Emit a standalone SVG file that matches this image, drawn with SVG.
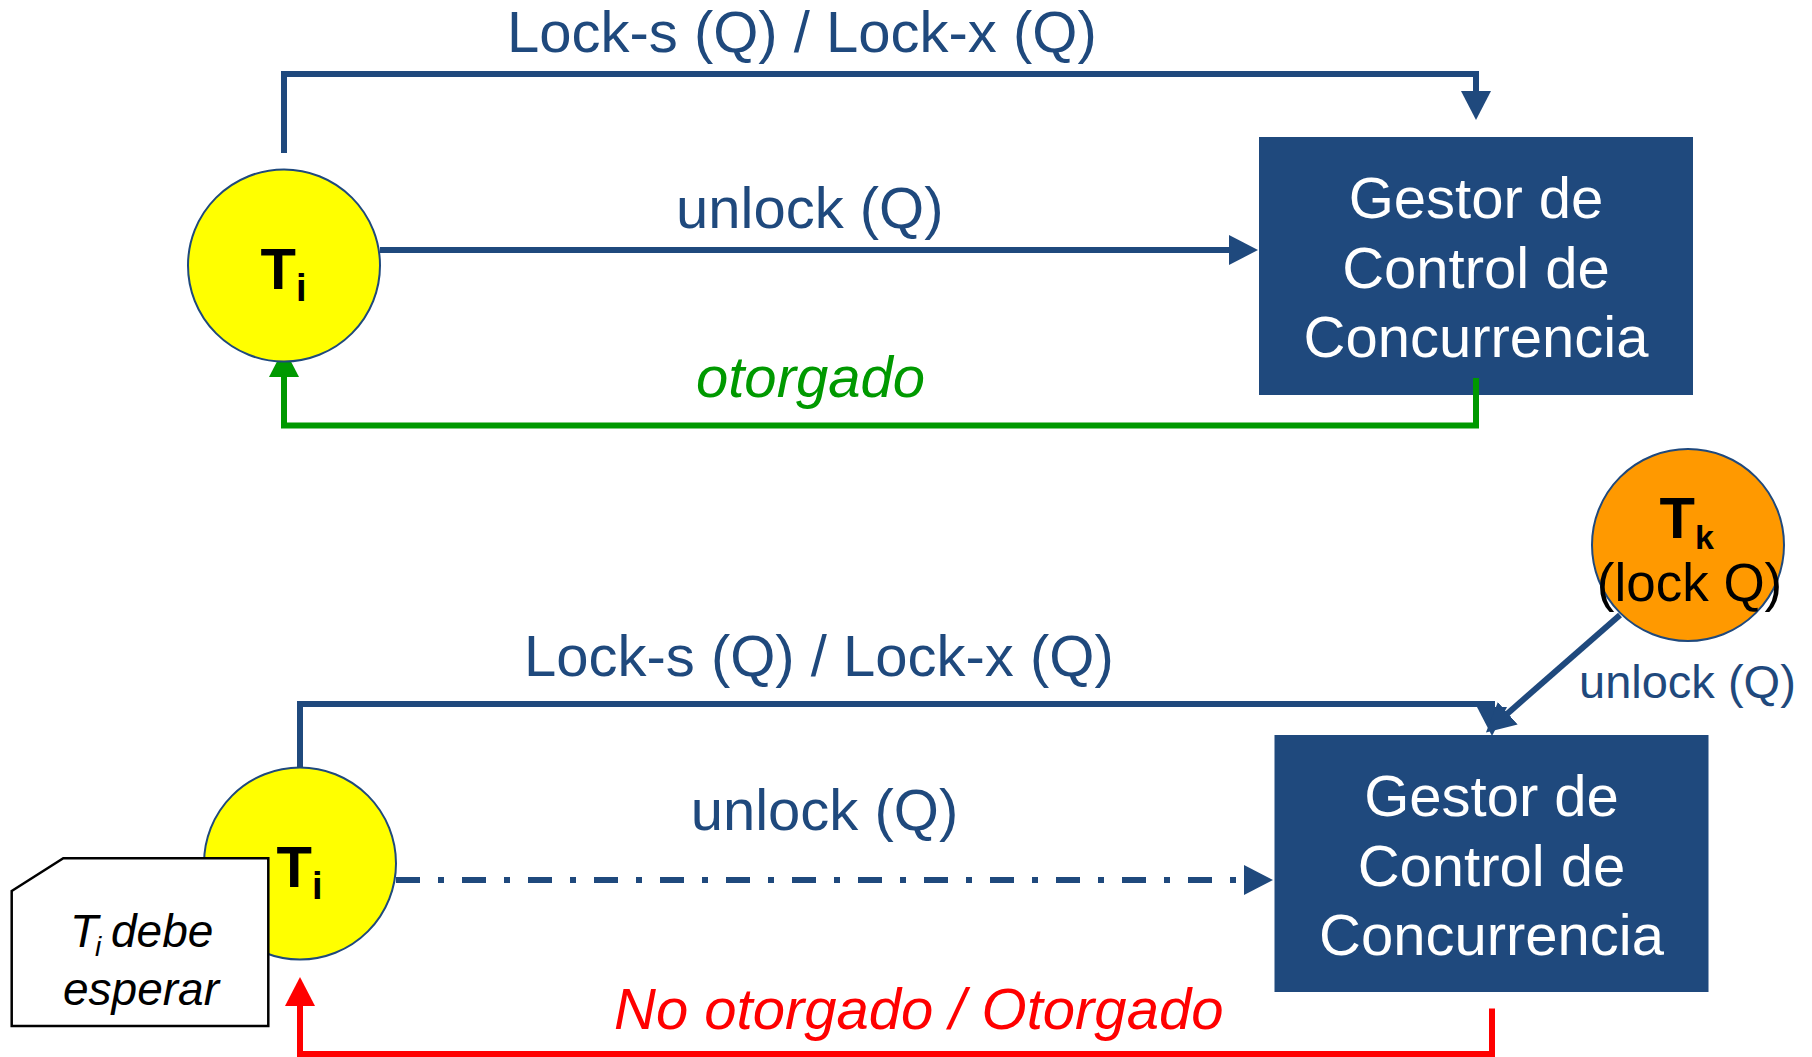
<svg xmlns="http://www.w3.org/2000/svg" width="1812" height="1057" viewBox="0 0 1812 1057">
<style>
text{font-family:"Liberation Sans",Arial,Helvetica,sans-serif}
.lbl{font-size:58px;fill:#1F497D}
.box{fill:#1F497D}
.boxt{font-size:58px;fill:#FFFFFF;text-anchor:middle}
.blue{stroke:#1F497D;stroke-width:6;fill:none}
.green{stroke:#009900;stroke-width:6;fill:none}
.red{stroke:#FF0000;stroke-width:6;fill:none}
.ti{font-size:58px;font-weight:bold;fill:#000}
.sub{font-size:38px}
</style>
<defs>
<marker id="ab" markerUnits="userSpaceOnUse" viewBox="0 0 29 30" refX="1" refY="15" markerWidth="29" markerHeight="30" orient="auto"><path d="M0,0 L29,15 L0,30 z" fill="#1F497D"/></marker>
<marker id="ag" markerUnits="userSpaceOnUse" viewBox="0 0 29 30" refX="1" refY="15" markerWidth="29" markerHeight="30" orient="auto"><path d="M0,0 L29,15 L0,30 z" fill="#009900"/></marker>
<marker id="ar" markerUnits="userSpaceOnUse" viewBox="0 0 29 30" refX="1" refY="15" markerWidth="29" markerHeight="30" orient="auto"><path d="M0,0 L29,15 L0,30 z" fill="#FF0000"/></marker>
</defs>
<rect width="1812" height="1057" fill="#FFFFFF"/>

<g id="node-gestor-top">
<rect class="box" x="1259" y="137" width="434" height="258"/>
<text class="boxt" x="1476" y="217.7">Gestor de</text>
<text class="boxt" x="1476" y="287.7">Control de</text>
<text class="boxt" x="1476" y="357">Concurrencia</text>
</g>
<g id="node-gestor-bottom">
<rect class="box" x="1274.5" y="735" width="434" height="257"/>
<text class="boxt" x="1491.5" y="815.7">Gestor de</text>
<text class="boxt" x="1491.5" y="885.7">Control de</text>
<text class="boxt" x="1491.5" y="955">Concurrencia</text>
</g>

<g id="connectors">
<polyline class="blue" points="284,153 284,74 1476,74 1476,92" marker-end="url(#ab)"/>
<line class="blue" x1="380" y1="250" x2="1230" y2="250" marker-end="url(#ab)"/>
<polyline class="green" points="1476,378 1476,425.5 284,425.5 284,376" marker-end="url(#ag)"/>
<polyline class="blue" points="300,783 300,704 1492,704 1492,708" marker-end="url(#ab)"/>
<line class="blue" x1="396" y1="880" x2="1245" y2="880" stroke-dasharray="24 18 6 18" marker-end="url(#ab)"/>
<polyline class="red" points="1492,1008.5 1492,1054 300,1054 300,1005" marker-end="url(#ar)"/>
<line class="blue" x1="1620" y1="615" x2="1507" y2="714" marker-end="url(#ab)"/>
<text class="lbl" x="507" y="51.7">Lock-s (Q) / Lock-x (Q)</text>
<text class="lbl" x="676" y="227.7">unlock (Q)</text>
<text x="696" y="397.3" font-size="58" font-style="italic" fill="#009900">otorgado</text>
<text class="lbl" x="524" y="675.7">Lock-s (Q) / Lock-x (Q)</text>
<text class="lbl" x="690.7" y="830">unlock (Q)</text>
<text x="614" y="1029" font-size="58" font-style="italic" fill="#FF0000">No otorgado / Otorgado</text>
<text x="1579" y="697.7" font-size="47" fill="#1F497D">unlock (Q)</text>
</g>

<g id="node-ti-top">
<circle cx="284" cy="265.5" r="96" fill="#FFFF00" stroke="#1F497D" stroke-width="2"/>
<text class="ti" x="260.5" y="289">T<tspan class="sub" dy="11.7">i</tspan></text>
</g>
<g id="node-ti-bottom">
<circle cx="300" cy="863.5" r="96" fill="#FFFF00" stroke="#1F497D" stroke-width="2"/>
<text class="ti" x="276.5" y="887.3">T<tspan class="sub" dy="12">i</tspan></text>
</g>
<g id="node-tk">
<circle cx="1688" cy="545" r="96" fill="#FF9900" stroke="#1F497D" stroke-width="2"/>
<text class="ti" x="1659.5" y="537.7">T<tspan font-size="34" dy="11.3">k</tspan></text>
<text x="1689.5" y="601" font-size="53" fill="#000" text-anchor="middle">(lock Q)</text>
</g>
<g id="node-note">
<polygon points="11.7,891 63.3,858.3 268.3,858.3 268.3,1026 11.7,1026" fill="#FFFFFF" stroke="#000" stroke-width="2.5"/>
<text font-size="46" font-style="italic" fill="#000"><tspan x="70" y="946.7">T</tspan><tspan font-size="28" x="95" y="956">i</tspan><tspan x="111" y="946.7">debe</tspan></text>
<text x="141" y="1005" font-size="46" font-style="italic" fill="#000" text-anchor="middle">esperar</text>
</g>
</svg>
